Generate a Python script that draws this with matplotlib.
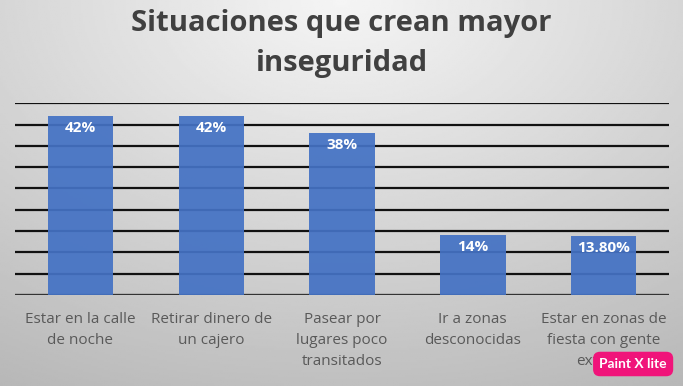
import numpy as np
import matplotlib.pyplot as plt

# datos
categorias = ["Estar en la calle\nde noche", "Retirar dinero de\nun cajero",
              "Pasear por\nlugares poco\ntransitados", "Ir a zonas\ndesconocidas",
              "Estar en zonas de\nfiesta con gente\nextraña"]
valores = [0.42, 0.42, 0.38, 0.14, 0.138]
etiquetas = ["42%", "42%", "38%", "14%", "13.80%"]

azul = "#4472C4"
gris_texto = "#595959"

fig = plt.figure(figsize=(6.83, 3.86), dpi=100)

# fondo degradado
bg = fig.add_axes([0, 0, 1, 1])
yy, xx = np.mgrid[0:1:200j, 0:1:350j]
r = np.sqrt(((xx - 0.5) * 1.1) ** 2 + (yy * 0.95) ** 2)
img = 0.96 - 0.22 * r
bg.imshow(img, cmap="gray", vmin=0, vmax=1, aspect="auto", extent=[0, 1, 0, 1], origin="upper")
bg.set_axis_off()

ax = fig.add_axes([0.022, 0.2358, 0.9575, 0.4966])
ax.patch.set_alpha(0)
x = np.arange(len(categorias))
ax.set_ylim(0, 0.45)
ax.set_xlim(-0.5, len(categorias) - 0.5)
ax.set_yticks(np.arange(0, 0.451, 0.05))
ax.yaxis.grid(True, color="#111111", linewidth=1.6)
ax.set_axisbelow(True)
barras = ax.bar(x, valores, width=0.5, color=azul, alpha=0.93, zorder=2)
for b, t in zip(barras, etiquetas):
    ax.text(b.get_x() + b.get_width() / 2, b.get_height() - 0.027, t,
            ha="center", va="center", color="white", fontsize=11,
            fontweight="bold", family="Open Sans", zorder=3)

ax.axhline(0, color="#333333", linewidth=2.2, zorder=1)
for s in ax.spines.values():
    s.set_visible(False)
ax.set_yticklabels([])
ax.tick_params(length=0)
ax.set_xticks(x)
ax.set_xticklabels(categorias, fontsize=11, color=gris_texto, family="Open Sans",
                   linespacing=1.55)
ax.tick_params(axis="x", pad=12)

fig.text(0.5, 0.94, "Situaciones que crean mayor", ha="center", va="center",
         fontsize=21, fontweight="bold", color="#404040", family="Open Sans")
fig.text(0.5, 0.835, "inseguridad", ha="center", va="center",
         fontsize=21, fontweight="bold", color="#404040", family="Open Sans")

# marca de agua
fig.text(0.927, 0.057, "Paint X lite", ha="center", va="center", fontsize=10,
         fontweight="bold", color="white", family="Lato",
         bbox=dict(boxstyle="round,pad=0.45,rounding_size=0.5", fc="#f0147a", ec="none"))

fig.savefig("out.png", dpi=100)
